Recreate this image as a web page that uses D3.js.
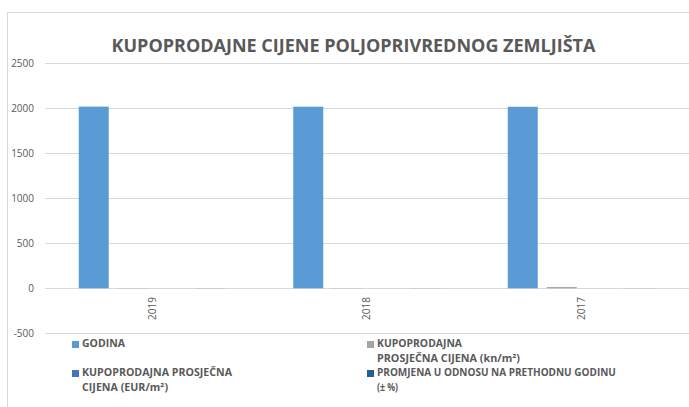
<!DOCTYPE html>
<html>
<head>
<meta charset="utf-8">
<script src="https://cdn.jsdelivr.net/npm/d3@7"></script>
<style>
  html, body { margin: 0; padding: 0; background: #fff; }
  svg { display: block; }
  text { font-family: "Open Sans", "Noto Sans", "DejaVu Sans", sans-serif; }
</style>
</head>
<body>
<svg id="chart" width="689" height="407"></svg>
<script>
const title = "KUPOPRODAJNE CIJENE POLJOPRIVREDNOG ZEMLJIŠTA";
const categories = ["2019", "2018", "2017"];
const seriesNames = ["GODINA", "KUPOPRODAJNA PROSJEČNA CIJENA (kn/m²)", "KUPOPRODAJNA PROSJEČNA CIJENA (EUR/m²)", "PROMJENA U ODNOSU NA PRETHODNU GODINU (± %)"];
const godina = [2019, 2018, 2017];
const cijenaKn = [2.2, 2.0, 14];
const cijenaEur = [0.3, 0.27, 0.25];
const promjena = [1.0, -0.8, 0.5];
const yTicks = [-500, 0, 500, 1000, 1500, 2000, 2500];
const colors = ["#5B9BD5", "#A5A5A5", "#4472C4", "#255E91"];

const seriesValues = [godina, cijenaKn, cijenaEur, promjena];

const svg = d3.select("#chart");

// chart border
svg.append("rect")
  .attr("x", 7.5).attr("y", 12.5)
  .attr("width", 720).attr("height", 420)
  .attr("fill", "none").attr("stroke", "#D9D9D9");

const y = d3.scaleLinear().domain([-500, 2500]).range([333.3, 63.3]);
const x0 = d3.scaleBand().domain(categories).range([45, 688.5])
  .paddingInner(0.3147).paddingOuter(0.1573);
const x1 = d3.scaleBand().domain(d3.range(seriesNames.length)).range([0, x0.bandwidth()])
  .paddingInner(0.2308).paddingOuter(0);

// gridlines
svg.append("g").selectAll("line").data(yTicks).join("line")
  .attr("x1", 45).attr("x2", 689)
  .attr("y1", d => Math.round(y(d)) + 0.5).attr("y2", d => Math.round(y(d)) + 0.5)
  .attr("stroke", "#D9D9D9").attr("stroke-width", 1);

// y labels
svg.append("g").selectAll("text").data(yTicks).join("text")
  .attr("x", 34).attr("y", d => y(d)).attr("dy", "0.35em")
  .attr("text-anchor", "end")
  .attr("font-size", 10).attr("fill", "#595959")
  .text(d => d);

// bars
const bars = [];
categories.forEach((c, ci) => {
  seriesValues.forEach((vals, si) => bars.push({c, si, v: vals[ci]}));
});
svg.append("g").selectAll("rect").data(bars).join("rect")
  .attr("x", d => x0(d.c) + x1(d.si))
  .attr("width", x1.bandwidth())
  .attr("y", d => y(Math.max(0, d.v)))
  .attr("height", d => Math.abs(y(d.v) - y(0)))
  .attr("fill", d => colors[d.si]);

// x labels rotated
svg.append("g").selectAll("text").data(categories).join("text")
  .attr("transform", d => `translate(${x0(d) + x0.bandwidth() / 2},297) rotate(-90)`)
  .attr("text-anchor", "end").attr("dy", "0.35em")
  .attr("font-size", 10).attr("fill", "#595959")
  .text(d => d);

// title
const t = svg.append("text")
  .attr("x", 353.5).attr("y", 52)
  .attr("text-anchor", "middle")
  .attr("font-size", 18).attr("font-weight", "bold").attr("fill", "#595959")
  .text(title);
function fit(sel, w) {
  const len = sel.node().getComputedTextLength();
  if (Math.abs(len - w) / w > 0.03) sel.attr("textLength", w).attr("lengthAdjust", "spacingAndGlyphs");
}
fit(t, 483);

// legend
const legendItems = [
  {si: 0, x: 72, row: 0, lines: ["GODINA"], w: [43]},
  {si: 1, x: 367, row: 0, lines: ["KUPOPRODAJNA", "PROSJEČNA CIJENA (kn/m²)"], w: [85, 143]},
  {si: 2, x: 72, row: 2, lines: ["KUPOPRODAJNA PROSJEČNA", "CIJENA (EUR/m²)"], w: [150, 86]},
  {si: 3, x: 367, row: 2, lines: ["PROMJENA U ODNOSU NA PRETHODNU GODINU", "(± %)"], w: [246, 21]}
];
const rowY = [347, 362, 376, 391];
const lg = svg.append("g");
legendItems.forEach(it => {
  lg.append("rect")
    .attr("x", it.x).attr("y", rowY[it.row] - 6)
    .attr("width", 7).attr("height", 7)
    .attr("fill", colors[it.si]);
  it.lines.forEach((ln, li) => {
    const tx = lg.append("text")
      .attr("x", it.x + 10).attr("y", rowY[it.row + li])
      .attr("font-size", 10).attr("font-weight", "bold").attr("fill", "#595959")
      .text(ln);
    if (it.w[li]) fit(tx, it.w[li]);
  });
});
</script>
</body>
</html>
